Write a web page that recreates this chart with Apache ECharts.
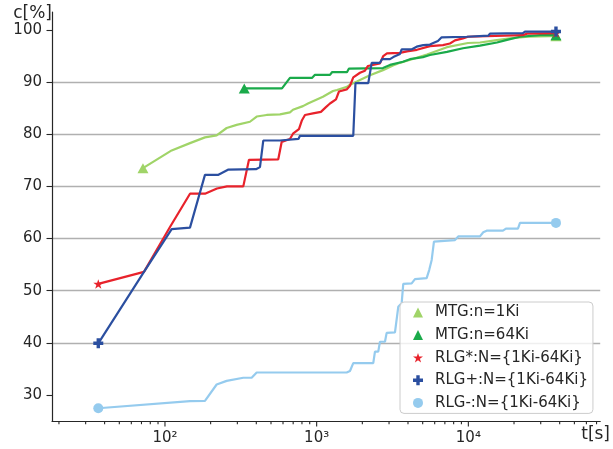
<!DOCTYPE html>
<html><head><meta charset="utf-8">
<script src="https://cdn.jsdelivr.net/npm/echarts@6/dist/echarts.min.js"></script>
<style>html,body{margin:0;padding:0;background:#fff}#c{width:613px;height:449px}</style>
</head><body><div id="c"></div>
<script>
// ---- data (t in seconds, c in percent) ----
const mtg1kT = [71.6,110.7,146.2,183.5,219.1,255.1,296.9,363.3,402.3,468.1,573,666.8,698,812.3,876.3,1100,1281,1361,1584,1658,1844,1930,2246,2736,3184,3541,4249,5335,7227,9940,11930,14980,18810,24710,34520,37810];
const mtg1kC = [73.5,76.9,78.3,79.4,79.8,81.2,81.8,82.4,83.4,83.7,83.8,84.2,84.7,85.4,85.9,87.2,88.3,88.5,89.1,89.5,90.1,90.4,91.3,92.3,93.2,93.7,94.4,95.3,96.7,97.5,97.6,98.0,98.4,98.7,98.8,98.8];

const mtg64kT = [333.2,590.6,666.8,931.1,974.6,1224,1262,1584,1633,2736,3043,3706,4121,5020,5583,7227,9213,11930,15440,17970,21890,29650,37810];
const mtg64kC = [88.8,88.8,90.8,90.8,91.4,91.4,91.9,91.9,92.6,92.7,93.3,93.9,94.4,94.8,95.2,95.8,96.5,97.0,97.6,98.1,98.7,99.0,99.0];

const rlgStarT = [36.34,72.7,107.9,146.2,183.5,220.2,256.3,328.3,357.9,558.3,587.9,666.8,698,764.3,800.2,837.5,945.4,1067,1151,1224,1341,1403,1577,1658,1743,1930,2081,2179,2614,2748,2906,3541,3938,4584,5583,6801,7563,8160,9213,9940,22910,24340,37810];
const rlgStarC = [51.3,53.6,62.2,68.6,68.6,69.6,70.0,70.0,75.1,75.2,78.5,79.1,80.1,81.0,82.7,83.7,84.0,84.3,85.2,85.9,86.7,88.2,88.6,89.3,90.9,91.8,92.2,93.1,93.6,95.0,95.5,95.6,95.9,96.2,96.9,97.1,97.4,98.0,98.4,98.7,99.0,99.3,99.4];

const rlgPlusT = [36.34,72.7,110.7,146.2,183.5,223.6,260.2,398,422.9,444.6,573.1,590.6,758.6,776.2,1743,1802,2189,2305,2614,2695,3043,3199,3541,3634,4249,4563,5043,5583,5869,6303,6668,9746,13530,13880,22910,23620,37810];
const rlgPlusC = [39.9,53.6,61.8,62.1,72.2,72.2,73.2,73.3,73.7,78.8,78.8,79.1,79.1,79.7,79.7,89.8,89.8,93.7,93.7,94.4,94.4,94.8,95.4,96.3,96.3,96.8,97.1,97.2,97.5,97.9,98.6,98.7,98.9,99.3,99.4,99.7,99.7];

const rlgMinusT = [36.34,146.2,183.5,219.1,255.1,328.3,372.8,402.3,1577,1658,1743,2361,2423,2547,2614,2820,2893,3283,3451,3634,3723,4229,4446,5310,5524,5731,5932,8160,8579,11930,12540,13200,16910,17700,21230,21890,37810];
const rlgMinusC = [27.45,28.8,28.85,32.0,32.7,33.3,33.3,34.3,34.3,34.6,36.1,36.1,38.3,38.3,40.2,40.2,41.9,42.0,46.9,47.6,51.3,51.4,52.2,52.4,54.0,55.9,59.4,59.7,60.4,60.4,61.2,61.5,61.5,61.9,61.9,63.0,63.0];

const seriesNames = ['MTG:n=1Ki','MTG:n=64Ki','RLG*:N={1Ki-64Ki}','RLG+:N={1Ki-64Ki}','RLG-:N={1Ki-64Ki}'];
const xMajorTicks = [100, 1000, 10000];
const xMinorTicks = [20,30,40,50,60,70,80,90,200,300,400,500,600,700,800,900,2000,3000,4000,5000,6000,7000,8000,9000,20000,30000,40000,50000,60000,70000];
const yTicks = [30,40,50,60,70,80,90,100];
const X_MIN = 18, X_MAX = 74000, Y_MIN = 25, Y_MAX = 103.45;

// ---- styling ----
const FONT = 'DejaVu Sans';
const TXT = '#262626';
const STAR = 'path://M10,0L12.245,6.91L19.511,6.91L13.633,11.18L15.878,18.09L10,13.82L4.122,18.09L6.367,11.18L0.489,6.91L7.755,6.91Z';
const PLUS = 'path://M3.3,0L6.7,0L6.7,3.3L10,3.3L10,6.7L6.7,6.7L6.7,10L3.3,10L3.3,6.7L0,6.7L0,3.3L3.3,3.3Z';
const styles = [
  {color:'#a0d468', sym:'triangle', size:[11,10]},
  {color:'#1aaa4a', sym:'triangle', size:[11,10]},
  {color:'#e8222b', sym:STAR, size:[10,10]},
  {color:'#2b4fa0', sym:PLUS, size:[10,10]},
  {color:'#95cbee', sym:'circle', size:10}
];
const dataSets = [[mtg1kT,mtg1kC],[mtg64kT,mtg64kC],[rlgStarT,rlgStarC],[rlgPlusT,rlgPlusC],[rlgMinusT,rlgMinusC]];

function lineSeries(i) {
  const [T, C] = dataSets[i];
  const s = styles[i];
  const n = T.length;
  const data = T.map((t, k) => (k === 0 || k === n - 1) ? {value:[t, C[k]]} : {value:[t, C[k]], symbol:'none'});
  return {
    name: seriesNames[i], type:'line', data, color:s.color,
    symbol:s.sym, symbolSize:s.size, symbolKeepAspect:true, showSymbol:true, showAllSymbol:true,
    lineStyle:{width:2.2, color:s.color}, itemStyle:{color:s.color},
    emphasis:{disabled:true}, animation:false, z:2 + i * 0.01
  };
}
function tickSeries(vals, len) {
  return {
    type:'custom', silent:true, animation:false, z:5, clip:false,
    data: vals.map(v => [v, Y_MIN]),
    renderItem(params, api) {
      const p = api.coord([api.value(0), api.value(1)]);
      return {type:'line', shape:{x1:p[0], y1:p[1], x2:p[0], y2:p[1] + len},
              style:{stroke:TXT, lineWidth:1.1}};
    }
  };
}
const SUP = '⁰¹²³⁴⁵⁶⁷⁸⁹';
function powLabel(v) {
  const l = Math.log10(v), e = Math.round(l);
  if (Math.abs(l - e) > 1e-6 || xMajorTicks.indexOf(Math.pow(10, e)) < 0) return '';
  return '10' + String(e).split('').map(d => SUP[+d]).join('');
}

const chart = echarts.init(document.getElementById('c'), null, {renderer:'canvas'});
chart.setOption({
  animation:false,
  backgroundColor:'#ffffff',
  grid:{left:52, right:12, top:12, bottom:28},
  xAxis:{
    type:'log', logBase:10, min:X_MIN, max:X_MAX,
    axisLine:{show:true, onZero:false, lineStyle:{color:TXT, width:1.2}},
    axisTick:{show:false}, minorTick:{show:false}, splitLine:{show:false}, minorSplitLine:{show:false},
    axisLabel:{margin:10, fontSize:15, fontFamily:FONT, color:TXT, formatter:powLabel, showMinLabel:false, showMaxLabel:false},
    name:'t[s]', nameLocation:'end', nameGap:-19,
    nameTextStyle:{fontSize:17, fontFamily:FONT, color:TXT, align:'left', verticalAlign:'top', padding:[5,0,0,0]}
  },
  yAxis:{
    type:'value', min:Y_MIN, max:Y_MAX,
    axisLine:{show:true, lineStyle:{color:TXT, width:1.2}},
    axisTick:{show:true, length:5.5, customValues:yTicks, lineStyle:{color:TXT, width:1.1}},
    axisLabel:{customValues:yTicks, margin:10, fontSize:15, fontFamily:FONT, color:TXT},
    splitLine:{show:true, showMinLine:false, showMaxLine:false, lineStyle:{color:'#b0b0b0', width:1.3}},
    name:'c[%]', nameLocation:'end', nameGap:-2,
    nameTextStyle:{fontSize:17, fontFamily:FONT, color:TXT, align:'right', verticalAlign:'middle'}
  },
  legend:{
    orient:'vertical', left:400, top:302, padding:[3,5,3,13], itemGap:7.6, itemWidth:10, itemHeight:10,
    backgroundColor:'rgba(255,255,255,0.8)', borderColor:'#cccccc', borderWidth:1, borderRadius:4,
    selectedMode:false,
    textStyle:{fontFamily:FONT, fontSize:15, color:TXT, padding:[0,0,0,7]},
    data: seriesNames.map((n, i) => ({name:n, icon:styles[i].sym, itemStyle:{color:styles[i].color}}))
  },
  series: [0,1,2,3,4].map(lineSeries).concat([tickSeries(xMajorTicks, 5.5), tickSeries(xMinorTicks, 3.2)])
});
</script>
</body></html>
